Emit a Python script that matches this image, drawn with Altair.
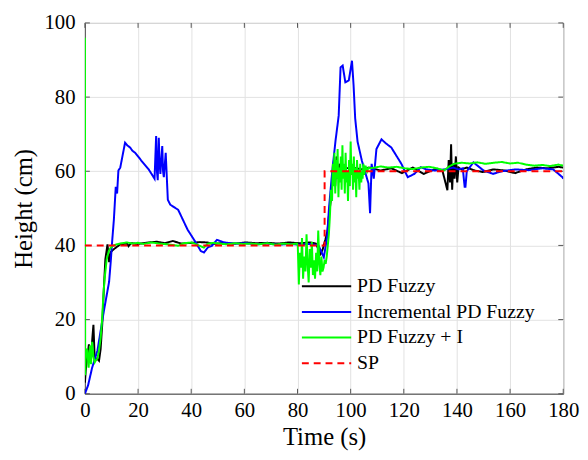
import altair as alt
import pandas as pd

# ---- data ----
pd_t = [0, 0.3, 0.9, 1.5, 2.3, 2.8, 3.2, 3.7, 4.5, 5.3, 5.9, 6.5, 7.1, 7.7, 8.5, 9.1, 9.7, 10.9, 13.3, 15.9, 16.4, 17.4, 19.9, 24, 27, 30.1, 33.1, 36.2, 40.2, 43.3, 46, 48.3, 52.4, 56.4, 60.5, 64.6, 68.6, 72.7, 76.7, 80.8, 84.8, 86.9, 88.7, 89.5, 90.5, 91.3, 91.8, 92.5, 93.1, 93.7, 94.2, 94.7, 95.2, 95.8, 96.5, 98, 101.1, 104.1, 107.2, 111.2, 115.3, 119.3, 123.4, 127.5, 131.5, 134.6, 136.4, 136.9, 137.4, 137.8, 138.2, 138.6, 139.1, 139.6, 140.1, 140.6, 141.7, 143.7, 146.7, 149.8, 153.8, 157.9, 161.9, 166, 170.1, 174.1, 178.2, 180]
pd_h = [3, 6.3, 10, 13.3, 9.8, 15, 18.6, 8.9, 9.5, 8.9, 12, 18.6, 28, 36.3, 40.3, 35.5, 38.2, 39, 40.3, 40.5, 39.8, 40.6, 40.4, 40.8, 41, 40.6, 41.2, 40.5, 40.7, 40.9, 40.8, 40.4, 40.7, 40.5, 40.8, 40.6, 40.7, 40.5, 40.8, 40.6, 40.8, 40.5, 37.7, 39, 41.6, 44, 47.8, 52, 57.6, 62.9, 56, 64, 58, 62, 60, 60.8, 61, 60.5, 61, 60.2, 60.8, 59.5, 61, 59.3, 60.5, 60, 54.9, 63, 57, 67.3, 55, 62, 58, 64, 57, 61, 60.5, 61, 60.2, 59.8, 60.5, 60.2, 59.5, 60.5, 61, 60.8, 61.2, 61]

inc_t = [0, 1.2, 2.7, 4.7, 7.1, 9.1, 9.7, 10.3, 10.9, 11.6, 12.1, 12.6, 13.3, 15.1, 15.9, 17.0, 17.9, 18.9, 21.2, 24, 26.2, 26.8, 27.1, 27.4, 27.8, 28.1, 28.4, 29.1, 29.4, 29.7, 30.4, 31.2, 32.1, 35.1, 38.6, 41.7, 43.6, 44.8, 46.3, 47.8, 49.7, 52.4, 56.4, 60.5, 64.6, 68.6, 72.7, 76.7, 80.8, 84.8, 87.9, 89.9, 91.1, 91.9, 93.1, 94.3, 95.5, 96.2, 97.0, 98.0, 99.3, 100.5, 101.1, 101.7, 102.6, 104.2, 106.7, 107.3, 107.9, 108.7, 109.7, 111.6, 113.3, 115.3, 119.1, 120.4, 121.5, 124, 126.4, 128.5, 131.5, 136.4, 138.6, 140.6, 142.2, 142.9, 143.2, 143.7, 146.2, 150, 153.6, 156.9, 161.9, 167, 172.1, 176.2, 179.7, 180]
inc_h = [0, 2.3, 7, 11.6, 22.2, 30.2, 35.5, 41.6, 47, 55.8, 54, 60.2, 61, 67.7, 67, 66.4, 65.5, 65, 62.9, 60.5, 58, 69.5, 60, 57.6, 69, 62, 59.3, 66.8, 60, 58.4, 65, 52.3, 51, 49.6, 44.3, 40.8, 38.5, 38.1, 39.5, 39.9, 41.5, 40.8, 40.5, 40.6, 40.3, 40.5, 40.2, 40.4, 40.2, 40.4, 40, 36.8, 42, 50.5, 60.2, 68.2, 75, 88, 88.5, 84, 84.5, 89.8, 83.2, 74.3, 68, 62.9, 56.7, 48.7, 62, 58, 66, 68.6, 67.5, 66.4, 62, 60, 58.4, 59.3, 61.1, 60.5, 60.2, 60.6, 61, 60.5, 60.8, 55.8, 55.8, 60, 62.4, 60.2, 59.3, 60, 60.5, 60.3, 60.8, 60.5, 58.4, 58]

pdi_t = [0, 0.1, 0.4, 0.9, 1.4, 1.9, 2.3, 2.7, 3.2, 3.7, 4.1, 4.7, 5.3, 5.9, 6.5, 6.9, 7.4, 8.2, 9.0, 9.7, 10.8, 12.1, 13.8, 15.9, 17.9, 19.9, 22, 25, 28, 31.1, 35.1, 37.2, 40.2, 42.2, 44.8, 46.3, 48.3, 50.4, 53.4, 56.4, 59.5, 62.5, 65.6, 68.6, 71.7, 74.7, 77.7, 79.8,
         80.1, 80.5, 80.9, 81.3, 81.7, 82.1, 82.5, 83.0, 83.4, 83.8, 84.2, 84.6, 85.0, 85.4, 85.8, 86.2, 86.6, 87.0, 87.4, 87.8, 88.2, 88.6, 89.0, 89.4, 89.8, 90.2, 90.6, 91.0, 91.4, 91.8,
         92.2, 92.6, 93.0, 93.3, 93.6, 93.9, 94.2, 94.5, 94.8, 95.1, 95.4, 95.7, 96.0, 96.3, 96.6, 96.9, 97.2, 97.5, 97.8, 98.1, 98.4, 98.7, 99.0, 99.4, 99.7, 100.0, 100.3, 100.6, 100.9, 101.2, 101.5, 101.8, 102.1, 102.4, 102.7, 103.0, 103.3, 103.6, 104.0, 104.2, 104.5, 104.8, 105.1, 105.6, 106.2, 106.7, 107.2,
         109.2, 111.2, 114.3, 117.3, 120.4, 123.4, 126.5, 129.5, 132.5, 135.1, 137.1, 138.8, 141.7, 144.7, 147.7, 150.8, 153.8, 156.9, 159.9, 163, 166, 169.1, 172.1, 175.1, 178.2, 180]
pdi_h = [96, 5, 12, 11.7, 7, 13, 8, 14, 10, 8.5, 9, 9.5, 11.7, 15, 20.4, 26, 31, 36.3, 38.5, 39.4, 40, 40.3, 40.6, 40.8, 40.5, 40.7, 40.4, 40.8, 40.5, 40.3, 39.9, 40.6, 40.8, 40.2, 39.4, 40.5, 40.7, 40.5, 40.3, 40.6, 40.4, 40.5, 40.3, 40.6, 40.2, 40.5, 40.3, 40.5,
         40, 29.5, 38, 34, 42, 31, 37, 33, 43, 35, 30, 39, 34, 41, 32, 36, 31, 38, 33, 44, 35, 32, 37, 33, 34, 36, 35, 37, 40, 43,
         48, 55, 52, 62, 56, 65, 54, 63, 58, 66, 53, 61, 57, 64, 55, 67, 58, 62, 54, 65, 57, 60, 52, 63, 56, 68, 59, 62, 55, 64, 57, 61, 53, 63, 58, 60, 55, 62, 57, 60, 58, 62, 59, 61.5, 60, 61, 60.8,
         61, 61.3, 61, 61.2, 60.8, 60.6, 61, 61.2, 60.8, 60.2, 61.3, 62, 62.3, 62.1, 62.4, 62, 62.3, 62.5, 62.1, 62.3, 61.8, 61.5, 61.7, 61.4, 61.8, 61.5]

sp_t = [0, 90.2, 90.2, 180]
sp_h = [40, 40, 60, 60]

series_names = ["PD Fuzzy", "Incremental PD Fuzzy", "PD Fuzzy + I", "SP"]
series_colors = ["#000000", "#0000ff", "#00ff00", "#ff0000"]
series_dash = [[1, 0], [1, 0], [1, 0], [7, 5]]

x_ticks = [0, 20, 40, 60, 80, 100, 120, 140, 160, 180]
y_ticks = [0, 20, 40, 60, 80, 100]

rows = []
for name, ts, hs in zip(series_names, [pd_t, inc_t, pdi_t, sp_t], [pd_h, inc_h, pdi_h, sp_h]):
    for i, (t, h) in enumerate(zip(ts, hs)):
        rows.append({"t": t, "h": h, "series": name, "idx": i})
df = pd.DataFrame(rows)

W, H = 485, 376
FONT = "Liberation Serif"

xscale = alt.Scale(domain=[0, 180], nice=False, zero=False)
yscale = alt.Scale(domain=[0, 100], nice=False, zero=False)

legend_kw = dict(title=None, orient="none", legendX=219, legendY=254,
                 symbolType="stroke", symbolSize=2500, symbolStrokeWidth=2,
                 clipHeight=26, rowPadding=0, labelOffset=5, padding=0, labelLimit=0,
                 labelFont=FONT, labelFontSize=20, labelColor="#000")

base = alt.Chart(df).mark_line(strokeWidth=2, clip=True).encode(
    x=alt.X("t:Q", scale=xscale, title="Time (s)",
            axis=alt.Axis(values=x_ticks, format="d", ticks=False, labelPadding=6, titlePadding=4,
                          labelFlush=False, labelOverlap=False, labelFont=FONT, titleFont=FONT)),
    y=alt.Y("h:Q", scale=yscale, title="Height (cm)",
            axis=alt.Axis(values=y_ticks, format="d", ticks=False, labelPadding=10, titlePadding=8,
                          labelFlush=False, labelOverlap=False, labelFont=FONT, titleFont=FONT)),
    color=alt.Color("series:N", scale=alt.Scale(domain=series_names, range=series_colors),
                    legend=alt.Legend(**legend_kw)),
    strokeDash=alt.StrokeDash("series:N", scale=alt.Scale(domain=series_names, range=series_dash),
                              legend=alt.Legend(**legend_kw)),
    order=alt.Order("idx:Q"),
)

layers = [base.transform_filter(alt.datum.series == s) for s in series_names]

tick_len = 5
xt = alt.Chart(pd.DataFrame({"v": x_ticks}))
yt = alt.Chart(pd.DataFrame({"v": y_ticks}))
tick_color = "#555555"
ticks = [
    xt.mark_rule(color=tick_color, strokeWidth=1).encode(x=alt.X("v:Q", scale=xscale), y=alt.value(H), y2=alt.value(H - tick_len)),
    xt.mark_rule(color=tick_color, strokeWidth=1).encode(x=alt.X("v:Q", scale=xscale), y=alt.value(0), y2=alt.value(tick_len)),
    yt.mark_rule(color=tick_color, strokeWidth=1).encode(y=alt.Y("v:Q", scale=yscale), x=alt.value(0), x2=alt.value(tick_len)),
    yt.mark_rule(color=tick_color, strokeWidth=1).encode(y=alt.Y("v:Q", scale=yscale), x=alt.value(W), x2=alt.value(W - tick_len)),
]

chart = alt.layer(*ticks, *layers).properties(
    width=W, height=H,
    autosize=alt.AutoSizeParams(type="none"),
    padding={"left": 78, "top": 12, "right": 17, "bottom": 62},
).configure(
    font=FONT
).configure_view(
    stroke="#555555", strokeWidth=1
).configure_axis(
    labelFont=FONT, labelFontSize=21, labelColor="#000",
    titleFont=FONT, titleFontSize=25, titleColor="#000", titleFontWeight="normal",
    gridColor="#e2e2e2", gridWidth=1, domainColor="#555555", domainWidth=1,
).configure_axisY(labelBaseline="middle")

chart.save("out.html", embed_options={"renderer": "svg", "actions": False})
